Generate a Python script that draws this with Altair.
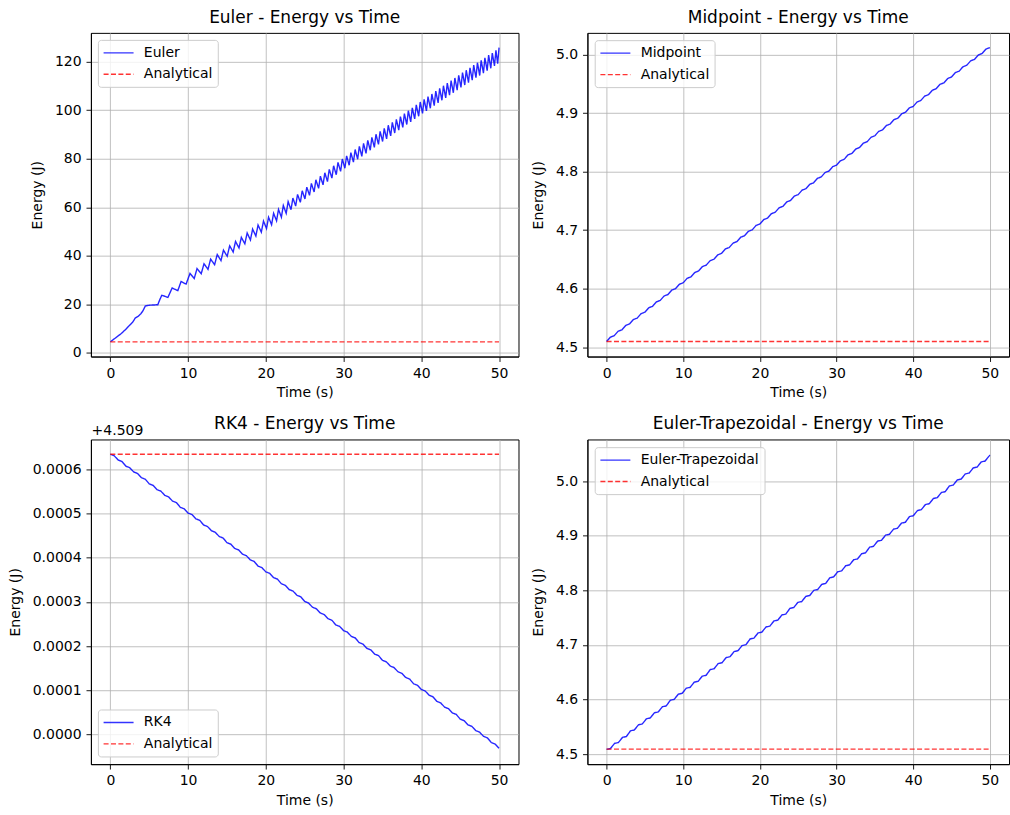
import altair as alt
import pandas as pd

FONT = "DejaVu Sans"

# ---------------- data ----------------
time_end = 50.0
analytical_energy = 4.509634
rk4_offset = 4.509

euler_time = [0, 0.7, 1.4, 2.0, 2.5, 2.9, 3.2, 3.6, 3.9, 4.2, 4.5, 5.0, 5.6, 6.1, 6.35, 6.62, 7.0, 7.4, 7.95, 8.68, 9.1, 9.74,
              10.25, 10.79, 11.15, 11.69, 12.05, 12.56, 12.90, 13.41, 13.75, 14.23, 14.55, 15.03, 15.35, 15.80,
              16.10, 16.55, 16.85, 17.30, 17.60, 18.02, 18.30, 18.72, 19.00, 19.42, 19.70, 20.09, 20.35, 20.74,
              21.00, 21.38, 21.63, 22.00, 22.25, 22.62, 22.87, 23.24, 23.48, 23.84, 24.08, 24.44, 24.68, 25.03,
              25.27, 25.62, 25.86, 26.21, 26.44, 26.79, 27.02, 27.36, 27.59, 27.93, 28.16, 28.50, 28.72, 29.06,
              29.28, 29.62, 29.84, 30.17, 30.39, 30.72, 30.94, 31.27, 31.49, 31.81, 32.03, 32.35, 32.57, 32.89,
              33.11, 33.43, 33.64, 33.96, 34.17, 34.49, 34.70, 35.02, 35.23, 35.54, 35.75, 36.06, 36.27, 36.58,
              36.79, 37.10, 37.31, 37.62, 37.82, 38.13, 38.33, 38.64, 38.84, 39.15, 39.35, 39.66, 39.86, 40.16,
              40.36, 40.66, 40.86, 41.16, 41.36, 41.66, 41.86, 42.16, 42.36, 42.65, 42.85, 43.14, 43.34, 43.63,
              43.83, 44.12, 44.32, 44.61, 44.81, 45.10, 45.30, 45.59, 45.78, 46.07, 46.26, 46.55, 46.74, 47.03,
              47.22, 47.51, 47.70, 47.99, 48.18, 48.47, 48.66, 48.94, 49.13, 49.41, 49.60, 49.82, 50.00]
euler_energy = [4.51, 6.2, 7.9, 9.7, 11.4, 12.7, 14.3, 15.1, 16.0, 17.3, 19.3, 19.6, 19.7, 19.8, 21.8, 23.7, 23.3, 22.8, 26.7, 25.6, 29.4, 28.3,
                32.7, 30.6, 34.7, 32.6, 36.7, 34.4, 38.6, 36.3, 40.5, 38.0, 42.3, 39.8, 44.1, 41.5,
                45.9, 43.2, 47.6, 44.9, 49.4, 46.5, 51.0, 48.1, 52.7, 49.7, 54.3, 51.2, 55.9, 52.8,
                57.5, 54.4, 59.1, 55.9, 60.7, 57.5, 62.3, 59.0, 63.8, 60.5, 65.3, 62.0, 66.8, 63.4,
                68.3, 64.9, 69.8, 66.3, 71.3, 67.8, 72.8, 69.2, 74.2, 70.6, 75.6, 72.0, 77.1, 73.4,
                78.5, 74.8, 79.9, 76.1, 81.2, 77.3, 82.5, 78.6, 83.8, 79.8, 85.1, 81.0, 86.3, 82.2,
                87.6, 83.5, 88.8, 84.7, 90.1, 85.9, 91.3, 87.1, 92.5, 88.2, 93.8, 89.4, 95.0, 90.6,
                96.2, 91.8, 97.4, 92.9, 98.6, 94.1, 99.8, 95.2, 101.0, 96.4, 102.2, 97.5, 103.4, 98.7,
                104.5, 99.7, 105.6, 100.8, 106.7, 101.9, 107.9, 103.0, 109.0, 104.1, 110.1, 105.1, 111.2, 106.2,
                112.2, 107.2, 113.3, 108.3, 114.4, 109.4, 115.5, 110.4, 116.5, 111.4, 117.5, 112.4, 118.6, 113.4,
                119.6, 114.3, 120.6, 115.3, 121.6, 116.3, 122.7, 117.3, 123.6, 118.3, 124.7, 119.2, 125.8]

midpoint_time = [i / 2 for i in range(101)]
midpoint_energy = [4.5095, 4.5170, 4.5196, 4.5271, 4.5296, 4.5371, 4.5397, 4.5472, 4.5497, 4.5572,
                   4.5598, 4.5673, 4.5698, 4.5773, 4.5799, 4.5874, 4.5899, 4.5974, 4.6000, 4.6075,
                   4.6100, 4.6175, 4.6201, 4.6276, 4.6301, 4.6376, 4.6402, 4.6477, 4.6502, 4.6577,
                   4.6603, 4.6678, 4.6703, 4.6778, 4.6804, 4.6879, 4.6904, 4.6979, 4.7005, 4.7080,
                   4.7105, 4.7180, 4.7206, 4.7281, 4.7306, 4.7381, 4.7407, 4.7482, 4.7507, 4.7582,
                   4.7608, 4.7683, 4.7708, 4.7783, 4.7809, 4.7884, 4.7909, 4.7984, 4.8010, 4.8085,
                   4.8110, 4.8185, 4.8211, 4.8286, 4.8311, 4.8386, 4.8412, 4.8487, 4.8512, 4.8587,
                   4.8613, 4.8688, 4.8713, 4.8788, 4.8814, 4.8889, 4.8914, 4.8989, 4.9015, 4.9090,
                   4.9115, 4.9190, 4.9216, 4.9291, 4.9316, 4.9391, 4.9417, 4.9492, 4.9517, 4.9592,
                   4.9618, 4.9693, 4.9718, 4.9793, 4.9819, 4.9894, 4.9919, 4.9994, 5.0020, 5.0095,
                   5.0120]

rk4_time = [i / 2 for i in range(101)]
rk4_energy = [4.509634, 4.5096305, 4.509621, 4.5096175, 4.509607, 4.5096035, 4.509594, 4.5095905,
              4.509581, 4.5095775, 4.509567, 4.5095635, 4.509554, 4.5095505, 4.509541, 4.5095375,
              4.509528, 4.5095245, 4.509514, 4.5095105, 4.509501, 4.5094975, 4.509488, 4.5094845,
              4.509474, 4.5094705, 4.509461, 4.5094575, 4.509448, 4.5094445, 4.509434, 4.5094305,
              4.509421, 4.5094175, 4.509408, 4.5094045, 4.509395, 4.5093915, 4.509381, 4.5093775,
              4.509368, 4.5093645, 4.509355, 4.5093515, 4.509341, 4.5093375, 4.509328, 4.5093245,
              4.509315, 4.5093115, 4.509301, 4.5092975, 4.509288, 4.5092845, 4.509275, 4.5092715,
              4.509262, 4.5092585, 4.509248, 4.5092445, 4.509235, 4.5092315, 4.509222, 4.5092185,
              4.509208, 4.5092045, 4.509195, 4.5091915, 4.509182, 4.5091785, 4.509168, 4.5091645,
              4.509155, 4.5091515, 4.509142, 4.5091385, 4.509129, 4.5091255, 4.509115, 4.5091115,
              4.509102, 4.5090985, 4.509089, 4.5090855, 4.509075, 4.5090715, 4.509062, 4.5090585,
              4.509049, 4.5090455, 4.509035, 4.5090315, 4.509022, 4.5090185, 4.509009, 4.5090055,
              4.508996, 4.5089925, 4.508982, 4.5089785, 4.508969]

trap_time = [0.00, 0.50, 1.04, 1.54, 2.08, 2.58, 3.12, 3.62, 4.16, 4.66, 5.20, 5.70, 6.24, 6.74, 7.28, 7.78,
             8.32, 8.82, 9.36, 9.86, 10.40, 10.90, 11.44, 11.94, 12.48, 12.98, 13.52, 14.02, 14.56, 15.06,
             15.60, 16.10, 16.64, 17.14, 17.68, 18.18, 18.72, 19.22, 19.76, 20.26, 20.80, 21.30, 21.84, 22.34,
             22.88, 23.38, 23.92, 24.42, 24.96, 25.46, 26.00, 26.50, 27.04, 27.54, 28.08, 28.58, 29.12, 29.62,
             30.16, 30.66, 31.20, 31.70, 32.24, 32.74, 33.28, 33.78, 34.32, 34.82, 35.36, 35.86, 36.40, 36.90,
             37.44, 37.94, 38.48, 38.98, 39.52, 40.02, 40.56, 41.06, 41.60, 42.10, 42.64, 43.14, 43.68, 44.18,
             44.72, 45.22, 45.76, 46.26, 46.80, 47.30, 47.84, 48.34, 48.88, 49.38, 49.92, 50.00]
trap_energy = [4.509, 4.5105, 4.520, 4.5215, 4.531, 4.5325, 4.543, 4.5445, 4.554, 4.5555, 4.565, 4.5665,
               4.576, 4.5775, 4.587, 4.5885, 4.599, 4.6005, 4.610, 4.6115, 4.621, 4.6225, 4.632, 4.6335,
               4.643, 4.6445, 4.655, 4.6565, 4.666, 4.6675, 4.677, 4.6785, 4.688, 4.6895, 4.699, 4.7005,
               4.711, 4.7125, 4.722, 4.7235, 4.733, 4.7345, 4.744, 4.7455, 4.755, 4.7565, 4.767, 4.7685,
               4.778, 4.7795, 4.789, 4.7905, 4.800, 4.8015, 4.811, 4.8125, 4.823, 4.8245, 4.834, 4.8355,
               4.845, 4.8465, 4.856, 4.8575, 4.867, 4.8685, 4.879, 4.8805, 4.890, 4.8915, 4.901, 4.9025,
               4.912, 4.9135, 4.923, 4.9245, 4.935, 4.9365, 4.946, 4.9475, 4.957, 4.9585, 4.968, 4.9695,
               4.979, 4.9805, 4.991, 4.9925, 5.002, 5.0035, 5.013, 5.0145, 5.024, 5.0255, 5.035, 5.0365,
               5.046, 5.0475]

x_ticks = [0, 10, 20, 30, 40, 50]
euler_ticks = [0, 20, 40, 60, 80, 100, 120]
mid_ticks = [4.5, 4.6, 4.7, 4.8, 4.9, 5.0]
rk4_ticks = [0.0, 0.0001, 0.0002, 0.0003, 0.0004, 0.0005, 0.0006]
offset_label = "+4.509"

BLUE = "#0000ff"
RED = "#ff0000"


def make_legend(lx, ly):
    return alt.Legend(
        title=None, orient="none", legendX=lx, legendY=ly,
        symbolType="M-2.143,0H2.143", symbolSize=196, symbolStrokeWidth=1.3,
        symbolOffset=7.7, labelOffset=17.3, symbolOpacity=0.8,
        labelFont=FONT, labelFontSize=14, labelColor="black", labelLimit=300,
        padding=5, rowPadding=6.4, fillColor="rgba(255,255,255,0.8)",
        strokeColor="#cccccc", cornerRadius=3,
    )


def panel(method, t, e, y_domain, y_ticks, y_fmt, analytical, lx, ly, w, h, extra=None, title_dy=0):
    df = pd.DataFrame({"t": t, "E": e, "series": method})
    dfa = pd.DataFrame({"t": [0.0, time_end], "E": [analytical, analytical], "series": "Analytical"})
    dom = [method, "Analytical"]
    leg = make_legend(lx, ly)
    color = alt.Color("series:N", scale=alt.Scale(domain=dom, range=[BLUE, RED]), legend=leg)
    dash = alt.StrokeDash("series:N", scale=alt.Scale(domain=dom, range=[[1, 0], [5, 2.4]]), legend=leg)
    x = alt.X("t:Q", scale=alt.Scale(domain=[-2.5, 52.5], nice=False, zero=False),
              axis=alt.Axis(values=x_ticks, format="d", title="Time (s)"))
    y = alt.Y("E:Q", scale=alt.Scale(domain=y_domain, nice=False, zero=False),
              axis=alt.Axis(values=y_ticks, format=y_fmt, title="Energy (J)"))
    l1 = alt.Chart(df).mark_line(strokeWidth=1.4, opacity=0.85).encode(x=x, y=y, color=color, strokeDash=dash)
    l2 = alt.Chart(dfa).mark_line(strokeWidth=1.3, opacity=0.8).encode(x=x, y=y, color=color, strokeDash=dash)
    layers = [l1, l2] + (extra or [])
    return alt.layer(*layers).properties(
        width=w, height=h,
        title=alt.TitleParams(text=f"{method} - Energy vs Time", font=FONT, fontSize=17,
                              fontWeight="normal", color="black", anchor="middle", frame="group",
                              offset=6, dy=title_dy),
    )


rk4_rel = [round(v - rk4_offset, 8) for v in rk4_energy]
offset_text = alt.Chart(pd.DataFrame({"label": [offset_label]})).mark_text(
    align="left", baseline="alphabetic", font=FONT, fontSize=14, color="black"
).encode(text="label:N", x=alt.value(0.7), y=alt.value(-4))

p1 = panel("Euler", euler_time, euler_energy, [-1.57, 131.9], euler_ticks, "d", analytical_energy, 7, 7, 428, 324)
p2 = panel("Midpoint", midpoint_time, midpoint_energy, [4.4839, 5.0372], mid_ticks, ".1f", analytical_energy, 7.3, 7.3, 422, 324)
p3 = panel("RK4", rk4_time, rk4_rel, [-0.0000669, 0.0006674], rk4_ticks, ".4f",
           round(analytical_energy - rk4_offset, 7), 7, 270.3, 428, 325, extra=[offset_text], title_dy=15)
p4 = panel("Euler-Trapezoidal", trap_time, trap_energy, [4.482, 5.076], mid_ticks, ".1f", analytical_energy, 7.3, 7.7, 422, 325)

chart = alt.concat(p1, p2, p3, p4, columns=2, spacing={"row": 83, "column": 69}, bounds="flush").resolve_scale(
    color="independent", strokeDash="independent", x="independent", y="independent").resolve_legend(
    color="independent", strokeDash="independent").properties(
    padding={"left": 7, "top": 7.5, "right": 0, "bottom": 0},
    background="white",
).configure_view(stroke="black", strokeWidth=1).configure_axis(
    labelFont=FONT, labelFontSize=14, labelColor="black", labelPadding=4.9, labelFlush=False,
    titleFont=FONT, titleFontSize=14, titleFontWeight="normal", titleColor="black",
    tickColor="black", tickSize=4.9, tickWidth=0.9, domainColor="black", domainWidth=1,
    gridColor="#b0b0b0", gridWidth=0.8,
).configure_axisX(titlePadding=5.5).configure_axisY(titlePadding=10)

chart.save("out.html", embed_options={"renderer": "svg", "actions": False})
